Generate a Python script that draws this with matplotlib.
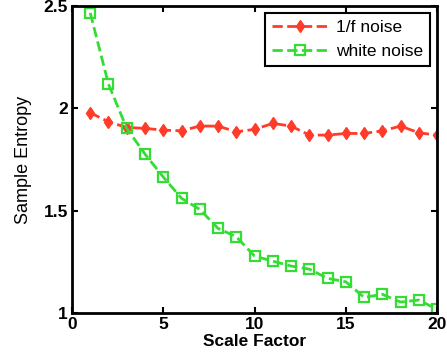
import matplotlib
matplotlib.use('Agg')
import matplotlib.pyplot as plt
import numpy as np

plt.rcParams['font.family'] = ['Liberation Sans', 'DejaVu Sans']

scale = np.arange(1, 21)
pink = [1.979, 1.935, 1.907, 1.903, 1.894, 1.891, 1.914, 1.914, 1.886, 1.898,
        1.927, 1.914, 1.870, 1.870, 1.878, 1.878, 1.891, 1.914, 1.881, 1.870]
white = [2.467, 2.119, 1.903, 1.777, 1.665, 1.561, 1.507, 1.414, 1.373, 1.279,
         1.254, 1.230, 1.215, 1.170, 1.153, 1.077, 1.092, 1.054, 1.064, 1.018]

fig = plt.figure(figsize=(4.47, 3.62), dpi=100)
ax = fig.add_axes([0.161, 0.135, 0.817, 0.848])

ax.plot(scale, pink, linestyle='--', color='#ff3b2a', lw=2, marker='d',
        markersize=6, markerfacecolor='#ff3b2a', markeredgecolor='#ff3b2a',
        label='1/f noise')
ax.plot(scale, white, linestyle='--', color='#33dd33', lw=2, marker='s',
        markersize=6.5, markerfacecolor='none', markeredgecolor='#33dd33',
        markeredgewidth=1.6, label='white noise')

ax.set_xlim(0, 20)
ax.set_ylim(1, 2.5)
ax.set_xticks([0, 5, 10, 15, 20])
ax.set_yticks([1, 1.5, 2, 2.5])
ax.set_yticklabels(['1', '1.5', '2', '2.5'])
ax.tick_params(direction='in', top=True, right=True, length=4, width=1.5,
               labelsize=12.5, pad=3)
for lab in ax.get_xticklabels() + ax.get_yticklabels():
    lab.set_fontweight('bold')
for s in ax.spines.values():
    s.set_linewidth(2)

ax.set_xlabel('Scale Factor', fontsize=12.5, fontweight='bold', labelpad=1)
ax.set_ylabel('Sample Entropy', fontsize=13, labelpad=8)

leg = ax.legend(loc='upper right', fontsize=12.5, fancybox=False, framealpha=1,
                edgecolor='black', handlelength=3.2, borderaxespad=0.4,
                handletextpad=0.5, labelspacing=0.5)
leg.get_frame().set_linewidth(1.5)

fig.savefig('out.png', dpi=100)
